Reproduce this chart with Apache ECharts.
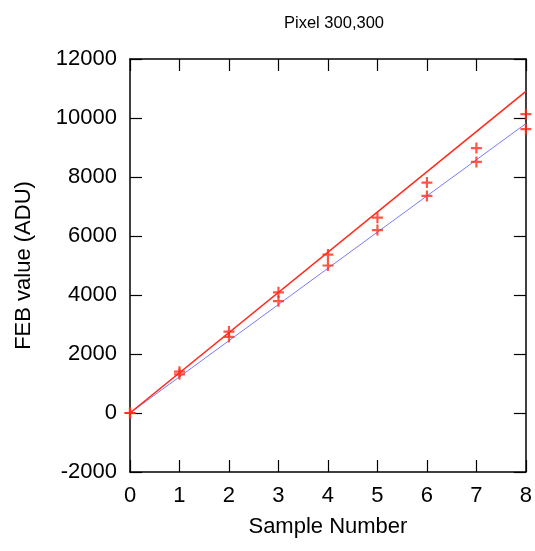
<!DOCTYPE html>
<html>
<head>
<meta charset="utf-8">
<script src="https://cdn.jsdelivr.net/npm/echarts@6/dist/echarts.min.js"></script>
<style>
  html, body { margin: 0; padding: 0; background: #fff; }
  #main { width: 535px; height: 551px; }
</style>
</head>
<body>
<div id="main"></div>
<script>
// measured FEB values, two readings per sample
var samples = [0, 1, 2, 3, 4, 5, 6, 7, 8];
var upperVals = [0, 1400, 2760, 4090, 5370, 6620, 7810, 8980, 10130];
var lowerVals = [0, 1310, 2580, 3790, 5000, 6200, 7360, 8510, 9620];
// straight fits, endpoints at sample 0 and 8
var redFit = [[0, 0], [8, 10900]];
var blueFit = [[0, 0], [8, 9810]];
var yTicks = { min: -2000, max: 12000, step: 2000 };

var plus = 'path://M4,0L6,0L6,4L10,4L10,6L6,6L6,10L4,10L4,6L0,6L0,4L4,4Z';
var font = 'Liberation Sans, Arial, sans-serif';

var myChart = echarts.init(document.getElementById('main'));

function pts(vals) {
  return samples.map(function (s, i) { return [s, vals[i]]; });
}

var axLine = { show: true, onZero: false, lineStyle: { color: '#000', width: 1.5 } };
var tick = { show: true, inside: true, length: 12, lineStyle: { color: '#000', width: 1.2 } };
var lbl = { fontFamily: font, fontSize: 22, color: '#000' };

myChart.setOption({
  backgroundColor: '#fff',
  animation: false,
  title: {
    text: 'Pixel 300,300',
    left: 329, top: 10, textAlign: 'center',
    textStyle: { fontFamily: font, fontSize: 16.5, fontWeight: 'normal', color: '#000' }
  },
  grid: { left: 130, right: 7, top: 59, bottom: 79 },
  xAxis: [{
    type: 'value', min: 0, max: 8, interval: 1,
    name: 'Sample Number', nameLocation: 'middle', nameGap: 44,
    nameTextStyle: lbl,
    axisLine: axLine, axisTick: tick,
    axisLabel: Object.assign({ margin: 13 }, lbl),
    splitLine: { show: false }
  }, {
    type: 'value', position: 'top', min: 0, max: 8, interval: 1,
    axisLine: axLine, axisTick: tick, axisLabel: { show: false }, splitLine: { show: false }
  }],
  yAxis: [{
    type: 'value', min: yTicks.min, max: yTicks.max, interval: yTicks.step,
    name: 'FEB value (ADU)', nameLocation: 'middle', nameGap: 95,
    nameTextStyle: lbl,
    axisLine: axLine, axisTick: tick,
    axisLabel: Object.assign({ margin: 13, formatter: function (v) { return String(v); } }, lbl),
    splitLine: { show: false }
  }, {
    type: 'value', position: 'right', min: yTicks.min, max: yTicks.max, interval: yTicks.step,
    axisLine: axLine, axisTick: tick, axisLabel: { show: false }, splitLine: { show: false }
  }],
  series: [
    {
      type: 'line', data: blueFit, symbol: 'none',
      lineStyle: { color: '#7a7aff', width: 1 }, z: 2
    },
    {
      type: 'line', data: redFit, symbol: 'none',
      lineStyle: { color: '#ff2a1a', width: 1.6 }, z: 3
    },
    {
      type: 'scatter', data: pts(upperVals), symbol: plus, symbolSize: 11,
      itemStyle: { color: '#ff2a1a' }, z: 4
    },
    {
      type: 'scatter', data: pts(lowerVals), symbol: plus, symbolSize: 11,
      itemStyle: { color: '#ff2a1a' }, z: 4
    }
  ]
});
</script>
</body>
</html>
